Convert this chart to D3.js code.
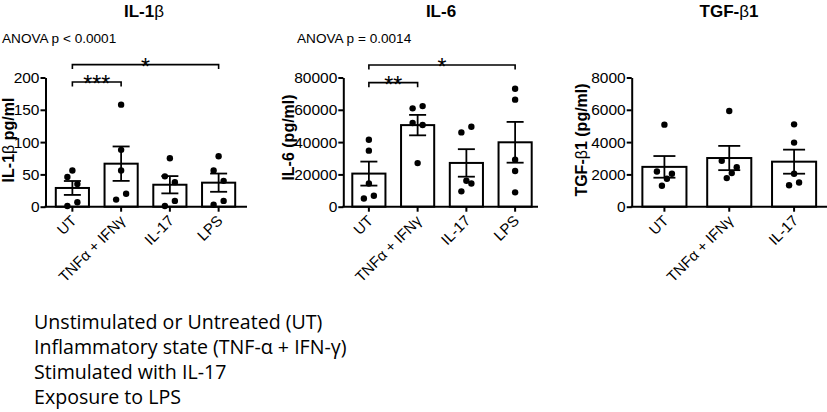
<!DOCTYPE html>
<html>
<head>
<meta charset="utf-8">
<script src="https://cdn.jsdelivr.net/npm/d3@7"></script>
<style>
  body { margin: 0; background: #fff; }
  svg { display: block; }
</style>
</head>
<body>
<div id="chart"></div>
<script>
var svgWidth = 827;
var svgHeight = 412;

// Treatment groups (x categories)
var groups = ["UT", "TNFα + IFNγ", "IL-17", "LPS"];

// Individual measurements, one array per group
var il1bValues = [
  [46, 56, 35, 1, 7],
  [158, 88, 56, 11, 20],
  [75, 47, 38, 1, 9],
  [78, 56, 40, 3, 9]
];
var il6Values = [
  [41500, 34700, 14400, 5100, 6800],
  [60900, 62300, 51800, 50600, 27000],
  [46000, 49500, 9500, 16100, 14400],
  [73000, 66300, 29100, 22100, 8900]
];
var tgfValues = [
  [5080, 2180, 1300, 1730, 2040],
  [5930, 2840, 1770, 2080, 2450],
  [5100, 3970, 1330, 2040, 1500]
];

// Tick labels
var il1bTicks = [0, 50, 100, 150, 200];
var il6Ticks = [0, 20000, 40000, 60000, 80000];
var tgfTicks = [0, 2000, 4000, 6000, 8000];

// Significance brackets: group index pairs, bracket level in data units
var il1bSig = [{from: 0, to: 1, level: 193, stars: "***"}, {from: 0, to: 3, level: 220, stars: "*"}];
var il6Sig = [{from: 0, to: 1, level: 76800, stars: "**"}, {from: 0, to: 3, level: 87700, stars: "*"}];

var anovaLabels = ["ANOVA p < 0.0001", "ANOVA p = 0.0014"];

var legendLines = [
  "Unstimulated or Untreated (UT)",
  "Inflammatory state (TNF-α + IFN-γ)",
  "Stimulated with IL-17",
  "Exposure to LPS"
];

var FONT = "'Liberation Sans', Arial, Helvetica, sans-serif";
var plotTop = 77.5;
var plotBottom = 206.7;

var panels = [
  {title: "IL-1β", ylabel: "IL-1β pg/ml", values: il1bValues, ticks: il1bTicks, sig: il1bSig, anova: anovaLabels[0],
   axisX: 45.5, axisEnd: 247, band: [48, 243], cap: 17, titleX: 144, ylabX: 14, ylabY: 140, anovaX: 2},
  {title: "IL-6", ylabel: "IL-6 (pg/ml)", values: il6Values, ticks: il6Ticks, sig: il6Sig, anova: anovaLabels[1],
   axisX: 343.3, axisEnd: 538, band: [344.5, 539.5], cap: 17, titleX: 441, ylabX: 293.5, ylabY: 137.5, anovaX: 297},
  {title: "TGF-β1", ylabel: "TGF-β1 (pg/ml)", values: tgfValues, ticks: tgfTicks, sig: [], anova: null,
   axisX: 631.7, axisEnd: 827, band: [632, 826.5], cap: 22, titleX: 729, ylabX: 587, ylabY: 140, anovaX: 0}
];

var svg = d3.select("#chart")
  .append("svg")
  .attr("width", svgWidth)
  .attr("height", svgHeight);

// writes a string into a text node, with β in the lighter symbol weight
function richText(sel, str) {
  var parts = str.split("β");
  parts.forEach(function(p, i) {
    if (i > 0) sel.append("tspan").attr("font-weight", "normal").text("β");
    if (p) sel.append("tspan").text(p);
  });
}

// GraphPad-like scatter: points close in y are spread sideways
function dodgeOffsets(vals, y) {
  var order = vals.map(function(v, i) { return i; })
    .sort(function(a, b) { return vals[b] - vals[a]; });
  var clusters = [];
  order.forEach(function(i, k) {
    if (k > 0 && y(vals[i]) - y(vals[order[k - 1]]) < 10.5) {
      clusters[clusters.length - 1].push(i);
    } else {
      clusters.push([i]);
    }
  });
  var off = vals.map(function() { return 0; });
  clusters.forEach(function(c) {
    if (c.length === 1) return;
    c.sort(function(a, b) { return a - b; });
    c.forEach(function(i, k) {
      off[i] = c.length === 2 ? (k === 0 ? -1 : 1) : k - (c.length - 1) / 2;
    });
  });
  return off;
}

panels.forEach(function(p) {
  var cats = groups.slice(0, p.values.length);
  var g = svg.append("g");

  var x = d3.scaleBand().domain(cats).range(p.band).paddingInner(0.32).paddingOuter(0.16);
  var y = d3.scaleLinear().domain([0, p.ticks[p.ticks.length - 1]]).range([plotBottom, plotTop]);

  var stats = p.values.map(function(v, i) {
    var m = d3.mean(v);
    var sem = d3.deviation(v) / Math.sqrt(v.length);
    return {cat: cats[i], mean: m, sem: sem, vals: v};
  });

  // bars
  g.selectAll("rect.bar")
    .data(stats)
    .enter()
    .append("rect")
    .attr("class", "bar")
    .attr("x", function(d) { return x(d.cat); })
    .attr("y", function(d) { return y(d.mean); })
    .attr("width", x.bandwidth())
    .attr("height", function(d) { return plotBottom - y(d.mean); })
    .attr("fill", "#fff")
    .attr("stroke", "#000")
    .attr("stroke-width", 2);

  // points
  stats.forEach(function(d) {
    var cx = x(d.cat) + x.bandwidth() / 2;
    var off = dodgeOffsets(d.vals, y);
    g.selectAll(null)
      .data(d.vals)
      .enter()
      .append("circle")
      .attr("cx", function(v, i) { return cx + off[i] * 5; })
      .attr("cy", function(v) { return y(v); })
      .attr("r", 3.2)
      .attr("fill", "#000");
  });

  // error bars (mean ± SEM)
  stats.forEach(function(d) {
    var cx = x(d.cat) + x.bandwidth() / 2;
    var hi = y(d.mean + d.sem), lo = y(d.mean - d.sem);
    var eb = g.append("g").attr("stroke", "#000").attr("stroke-width", 1.8);
    eb.append("line").attr("x1", cx).attr("x2", cx).attr("y1", hi).attr("y2", lo);
    eb.append("line").attr("x1", cx - p.cap / 2).attr("x2", cx + p.cap / 2).attr("y1", hi).attr("y2", hi);
    eb.append("line").attr("x1", cx - p.cap / 2).attr("x2", cx + p.cap / 2).attr("y1", lo).attr("y2", lo);
  });

  // y axis
  var yAxis = g.append("g")
    .attr("transform", "translate(" + p.axisX + ",0)")
    .call(d3.axisLeft(y).tickValues(p.ticks).tickSize(5).tickSizeOuter(0).tickPadding(1).tickFormat(d3.format("d")));
  yAxis.select(".domain").attr("stroke-width", 2);
  yAxis.selectAll(".tick line").attr("stroke-width", 2);
  yAxis.selectAll("text").attr("font-family", FONT).attr("font-size", "15.5px").attr("fill", "#000");

  // x axis
  g.append("line")
    .attr("x1", p.axisX - 1).attr("x2", p.axisEnd)
    .attr("y1", plotBottom).attr("y2", plotBottom)
    .attr("stroke", "#000").attr("stroke-width", 2);

  var xAxis = g.append("g")
    .attr("transform", "translate(0," + plotBottom + ")")
    .call(d3.axisBottom(x).tickSize(5).tickSizeOuter(0));
  xAxis.select(".domain").remove();
  xAxis.selectAll(".tick line").attr("stroke-width", 2);
  xAxis.selectAll("text")
    .attr("font-family", FONT)
    .attr("font-size", "15px")
    .attr("fill", "#000")
    .attr("text-anchor", "end")
    .attr("x", 0)
    .attr("y", 0)
    .attr("dy", 0)
    .attr("transform", "translate(5,15) rotate(-45)");

  // title
  var t = g.append("text")
    .attr("x", p.titleX)
    .attr("y", 17)
    .attr("text-anchor", "middle")
    .attr("font-family", FONT)
    .attr("font-size", "17px")
    .attr("font-weight", "bold");
  richText(t, p.title);

  // y label
  var yl = g.append("text")
    .attr("transform", "translate(" + p.ylabX + "," + p.ylabY + ") rotate(-90)")
    .attr("text-anchor", "middle")
    .attr("font-family", FONT)
    .attr("font-size", "16px")
    .attr("font-weight", "bold");
  richText(yl, p.ylabel);

  // anova text
  if (p.anova) {
    g.append("text")
      .attr("x", p.anovaX)
      .attr("y", 43)
      .attr("font-family", FONT)
      .attr("font-size", "13.6px")
      .text(p.anova);
  }

  // significance brackets
  p.sig.forEach(function(s) {
    var x1 = x(cats[s.from]) + x.bandwidth() / 2;
    var x2 = x(cats[s.to]) + x.bandwidth() / 2;
    var yb = y(s.level);
    g.append("path")
      .attr("d", "M" + x1 + "," + (yb + 4.5) + "V" + yb + "H" + x2 + "V" + (yb + 4.5))
      .attr("fill", "none")
      .attr("stroke", "#000")
      .attr("stroke-width", 1.6);
    g.append("text")
      .attr("x", (x1 + x2) / 2)
      .attr("y", yb + 10)
      .attr("text-anchor", "middle")
      .attr("font-family", FONT)
      .attr("font-size", "23px")
      .text(s.stars);
  });
});

// description lines below the charts
svg.append("g")
  .selectAll("text")
  .data(legendLines)
  .enter()
  .append("text")
  .attr("x", 34)
  .attr("y", function(d, i) { return 329 + i * 25; })
  .attr("font-family", "'Open Sans', sans-serif")
  .attr("font-size", "19.6px")
  .attr("fill", "#000")
  .text(function(d) { return d; });
</script>
</body>
</html>
